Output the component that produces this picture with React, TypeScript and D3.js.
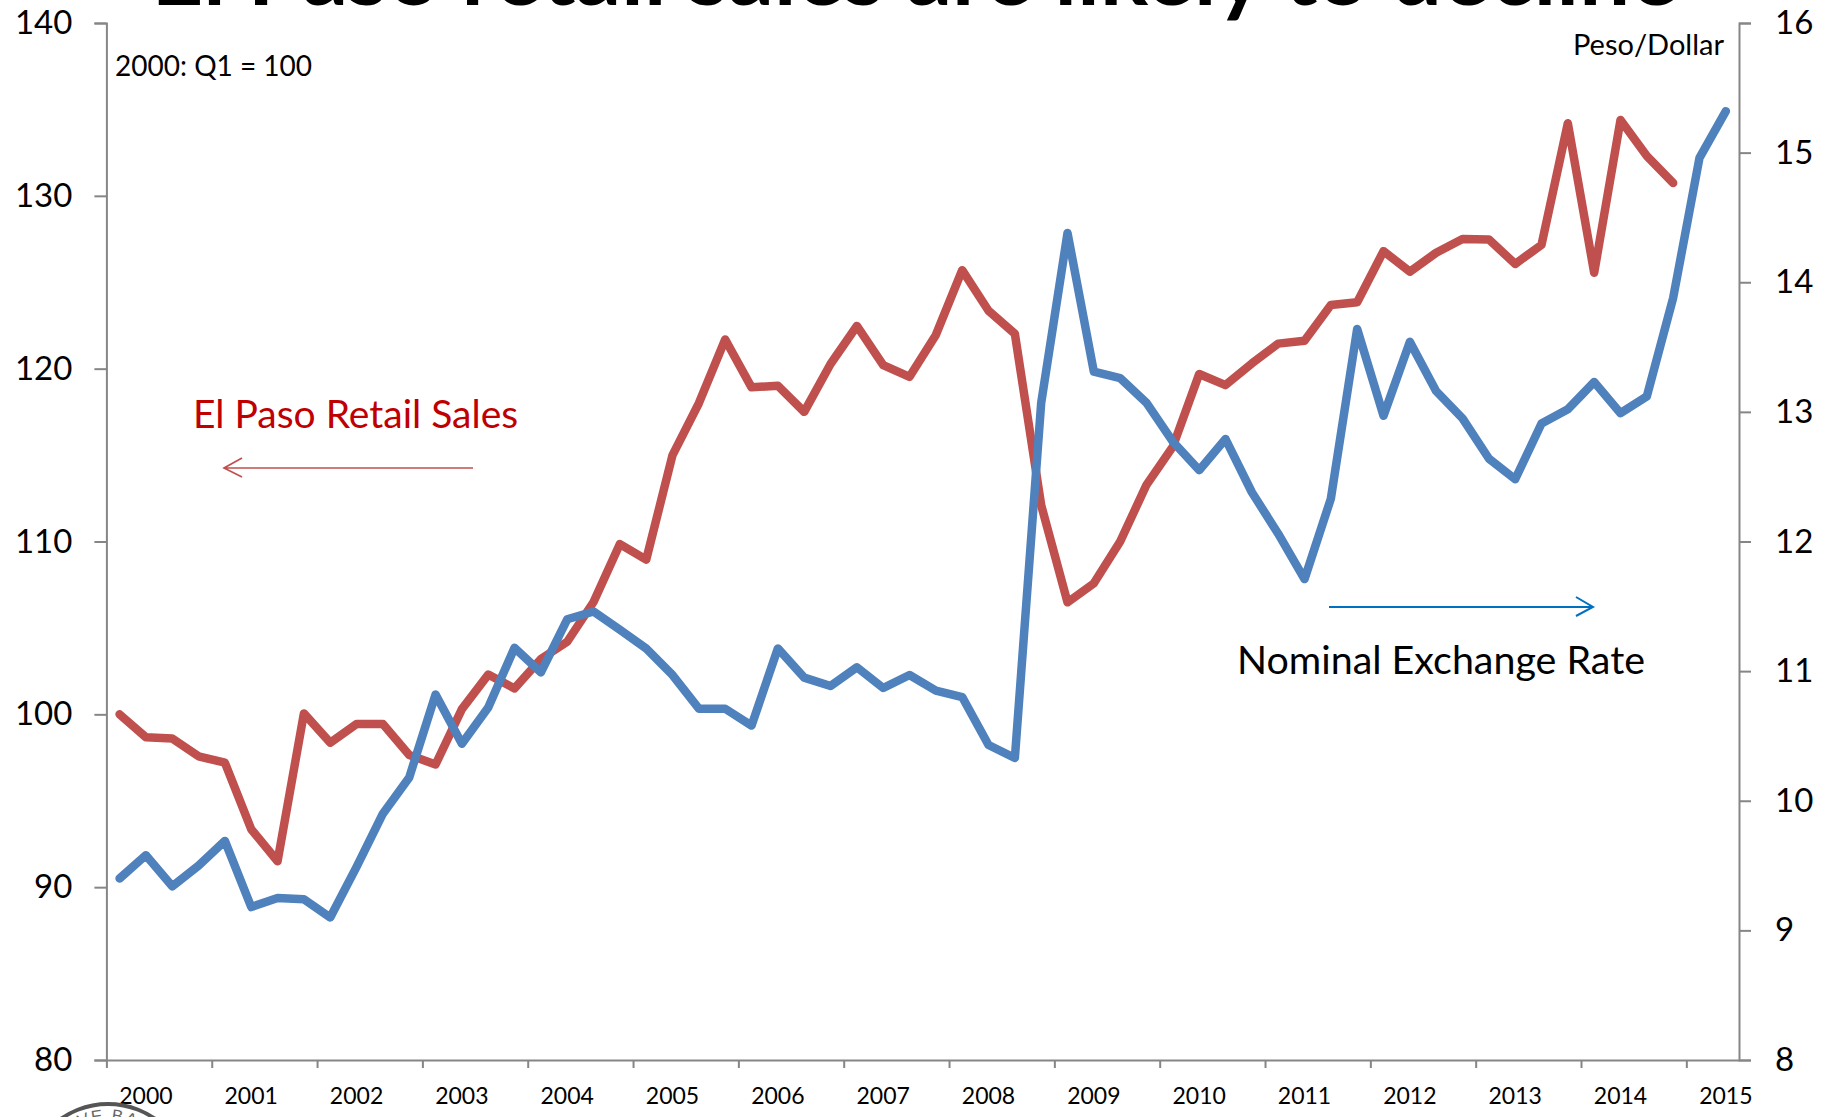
import { useEffect, useRef } from "react";
import * as d3 from "d3";

const WIDTH = 1825;
const HEIGHT = 1117;
const FONT = "Lato, 'Open Sans', sans-serif";

const years = ["2000", "2001", "2002", "2003", "2004", "2005", "2006", "2007", "2008", "2009", "2010", "2011", "2012", "2013", "2014", "2015"];

// 2000: Q1 = 100, left axis
const retailSales = [
  100, 98.67, 98.6, 97.57, 97.2, 93.35, 91.5, 100.05,
  98.36, 99.44, 99.44, 97.65, 97.1, 100.3, 102.3, 101.5,
  103.2, 104.2, 106.5, 109.85, 108.95, 115, 118, 121.69,
  118.92, 119.01, 117.5, 120.27, 122.47, 120.2, 119.53, 121.95,
  125.7, 123.35, 122.02, 112.1, 106.48, 107.58, 110, 113.28,
  115.49, 119.69, 119.05, 120.3, 121.45, 121.62, 123.68, 123.84,
  126.8, 125.61, 126.71, 127.5, 127.48, 126.06, 127.16, 134.2,
  125.55, 134.39, 132.3, 130.74,
];

// Peso/Dollar, right axis
const exchangeRate = [
  9.4, 9.58, 9.34, 9.5, 9.69, 9.18, 9.25, 9.24,
  9.1, 9.49, 9.9, 10.18, 10.82, 10.44, 10.72, 11.18,
  10.99, 11.4, 11.46, 11.32, 11.175, 10.97, 10.71, 10.71,
  10.58, 11.175, 10.95, 10.885, 11.03, 10.87, 10.97, 10.85,
  10.8, 10.43, 10.33, 13.07, 14.38, 13.31, 13.26, 13.07,
  12.77, 12.55, 12.79, 12.38, 12.06, 11.71, 12.33, 13.64,
  12.97, 13.54, 13.16, 12.95, 12.64, 12.48, 12.91, 13.02,
  13.23, 12.99, 13.12, 13.88, 14.96, 15.32,
];

const quarterCount = 62;
const leftTicks = [80, 90, 100, 110, 120, 130, 140];
const rightTicks = [8, 9, 10, 11, 12, 13, 14, 15, 16];

const margin = { left: 106.4, right: 1739, top: 23, bottom: 1060 };

export default function App() {
  const ref = useRef<SVGSVGElement>(null);

  useEffect(() => {
    const svg = d3.select(ref.current);
    svg.selectAll("*").remove();

    const quarters = d3.range(quarterCount);
    const x = d3.scalePoint<number>().domain(quarters).range([margin.left, margin.right]).padding(0.5);
    const edge = d3.scaleLinear().domain([0, quarterCount]).range([margin.left, margin.right]);
    const yLeft = d3.scaleLinear().domain([80, 140]).range([margin.bottom, margin.top]);
    const yRight = d3.scaleLinear().domain([8, 16]).range([margin.bottom, margin.top]);

    // title is cut by the top of the picture
    svg.append("text")
      .attr("x", 915)
      .attr("y", 5)
      .attr("text-anchor", "middle")
      .attr("font-family", FONT)
      .attr("font-weight", 700)
      .attr("font-size", 90.3)
      .attr("fill", "#000")
      .text("El Paso retail sales are likely to decline");

    const styleAxis = (g: any, size: number) => {
      g.selectAll("path").attr("stroke", "#868686").attr("stroke-width", 2);
      g.selectAll("line").attr("stroke", "#868686").attr("stroke-width", 2);
      g.selectAll("text").attr("font-family", FONT).attr("font-size", size).attr("fill", "#000");
    };

    const gLeft = svg.append("g")
      .attr("transform", `translate(${margin.left},0)`)
      .call(d3.axisLeft(yLeft).tickValues(leftTicks).tickSize(12).tickSizeOuter(12).tickPadding(22));
    styleAxis(gLeft, 33);

    const gRight = svg.append("g")
      .attr("transform", `translate(${margin.right},0)`)
      .call(d3.axisRight(yRight).tickValues(rightTicks).tickSize(12).tickSizeOuter(12).tickPadding(24));
    styleAxis(gRight, 33);

    const gBottom = svg.append("g")
      .attr("transform", `translate(0,${margin.bottom})`)
      .call(d3.axisBottom(edge).tickValues(d3.range(0, quarterCount, 4)).tickSize(8).tickSizeOuter(0).tickFormat(() => ""));
    styleAxis(gBottom, 23);

    // year labels sit under the second quarter of each year
    svg.append("g")
      .selectAll("text")
      .data(years)
      .join("text")
      .attr("x", (_, i) => x(i * 4 + 1) as number)
      .attr("y", 1104)
      .attr("text-anchor", "middle")
      .attr("font-family", FONT)
      .attr("font-size", 23)
      .attr("fill", "#000")
      .text((d) => d);

    const redLine = d3.line<number>().x((_, i) => x(i) as number).y((d) => yLeft(d));
    const blueLine = d3.line<number>().x((_, i) => x(i) as number).y((d) => yRight(d));

    svg.append("path")
      .attr("d", redLine(retailSales))
      .attr("fill", "none")
      .attr("stroke", "#C0504D")
      .attr("stroke-width", 8.5)
      .attr("stroke-linecap", "round")
      .attr("stroke-linejoin", "round");

    svg.append("path")
      .attr("d", blueLine(exchangeRate))
      .attr("fill", "none")
      .attr("stroke", "#4F81BD")
      .attr("stroke-width", 8.5)
      .attr("stroke-linecap", "round")
      .attr("stroke-linejoin", "round");

    const addText = (label: string, px: number, py: number, size: number, fill: string, anchor = "start") =>
      svg.append("text")
        .attr("x", px)
        .attr("y", py)
        .attr("text-anchor", anchor)
        .attr("font-family", FONT)
        .attr("font-size", size)
        .attr("fill", fill)
        .text(label);

    addText("2000: Q1 = 100", 115, 76, 28, "#000");
    addText("Peso/Dollar", 1724, 55, 29, "#000", "end");
    addText("El Paso Retail Sales", 193, 428, 39, "#C00000");
    addText("Nominal Exchange Rate", 1237, 674, 39.4, "#000");

    // hand drawn arrows
    svg.append("path")
      .attr("d", "M473,468H224M242,458L224,468L242,477")
      .attr("fill", "none")
      .attr("stroke", "#C0504D")
      .attr("stroke-width", 1.7);
    svg.append("path")
      .attr("d", "M1329,607H1593M1576,597L1593,607L1576,616")
      .attr("fill", "none")
      .attr("stroke", "#0070C0")
      .attr("stroke-width", 2);

    // top of the seal, cut by the bottom edge
    svg.append("circle")
      .attr("cx", 108)
      .attr("cy", 1186)
      .attr("r", 82)
      .attr("fill", "none")
      .attr("stroke", "#555")
      .attr("stroke-width", 4);
    svg.append("path")
      .attr("id", "seal-arc")
      .attr("d", "M43,1186A65,65 0 0 1 173,1186")
      .attr("fill", "none");
    svg.append("text")
      .attr("font-family", "'Liberation Sans', sans-serif")
      .attr("font-size", 17)
      .attr("fill", "#666")
      .attr("letter-spacing", 1.5)
      .append("textPath")
      .attr("href", "#seal-arc")
      .attr("startOffset", "50%")
      .attr("text-anchor", "middle")
      .text("ERVE BANK");
  }, []);

  return (
    <svg
      ref={ref}
      width={WIDTH}
      height={HEIGHT}
      style={{ position: "absolute", left: 0, top: 0, background: "#fff" }}
    />
  );
}
